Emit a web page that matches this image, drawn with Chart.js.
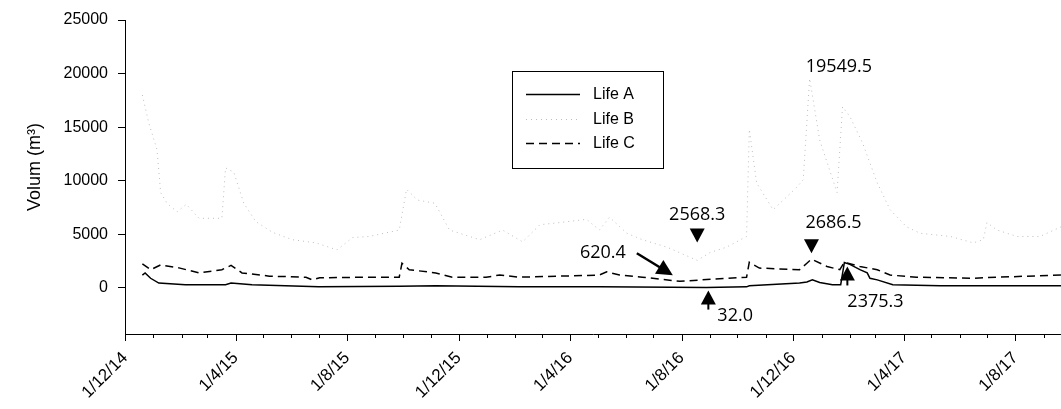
<!DOCTYPE html>
<html>
<head>
<meta charset="utf-8">
<script src="https://cdn.jsdelivr.net/npm/chart.js@4.4.1/dist/chart.umd.min.js"></script>
<style>
  html, body { margin: 0; padding: 0; background: #fff; }
</style>
</head>
<body>
<canvas id="volChart" width="1061" height="409"></canvas>
<script>
// Life A (solid)
const lifeADates = ['2014-12-20','2014-12-23','2014-12-29','2015-01-07','2015-02-05','2015-03-21','2015-03-27','2015-04-19','2015-07-01','2015-09-27','2015-11-06','2016-02-05','2016-05-03','2016-08-28','2016-10-11','2016-10-14','2016-12-08','2016-12-16','2016-12-22','2016-12-30','2017-01-13','2017-01-22','2017-01-26','2017-02-01','2017-02-12','2017-02-20','2017-02-23','2017-03-03','2017-03-20','2017-05-11','2017-09-20'];
const lifeAValues = [1200,1400,900,450,300,300,450,300,100,150,200,100,100,32.0,100,200,450,550,750,500,300,300,2375.3,2200,1700,1400,900,750,300,200,200];

// Life B (dotted)
const lifeBDates = ['2014-12-20','2014-12-27','2015-01-05','2015-01-09','2015-01-16','2015-01-27','2015-02-06','2015-02-20','2015-03-17','2015-03-21','2015-03-30','2015-04-10','2015-04-23','2015-05-11','2015-06-02','2015-06-28','2015-07-21','2015-08-07','2015-08-25','2015-09-27','2015-10-05','2015-10-17','2015-11-05','2015-11-21','2015-12-24','2016-01-18','2016-02-09','2016-02-28','2016-03-21','2016-04-19','2016-05-03','2016-05-14','2016-06-02','2016-06-19','2016-07-16','2016-08-18','2016-09-01','2016-09-19','2016-10-11','2016-10-14','2016-10-22','2016-11-09','2016-11-24','2016-12-05','2016-12-12','2016-12-19','2016-12-30','2017-01-18','2017-01-24','2017-02-01','2017-02-15','2017-03-03','2017-03-17','2017-04-04','2017-04-19','2017-05-22','2017-06-16','2017-06-27','2017-07-01','2017-07-12','2017-08-03','2017-08-28','2017-09-20'];
const lifeBValues = [18000,15400,12900,8900,7900,7100,7800,6500,6500,11200,10800,7900,6200,5200,4500,4200,3550,4700,4800,5400,9200,8200,7900,5400,4500,5400,4300,5900,6100,6400,5400,6600,5100,4500,3800,2568.3,3300,3800,4800,14800,9800,7300,8500,9400,10100,19549.5,13800,8900,16900,16000,13500,9800,7300,5700,5100,4800,4200,4500,6100,5400,4800,4800,5700];

// Life C (dashed)
const lifeCDates = ['2014-12-20','2014-12-29','2015-01-09','2015-01-29','2015-02-20','2015-03-17','2015-03-27','2015-04-08','2015-05-08','2015-06-17','2015-06-24','2015-07-02','2015-08-25','2015-09-27','2015-09-30','2015-10-08','2015-11-06','2015-11-24','2015-12-31','2016-01-15','2016-02-05','2016-03-21','2016-05-03','2016-05-11','2016-05-25','2016-06-19','2016-07-30','2016-09-19','2016-10-11','2016-10-14','2016-10-25','2016-12-08','2016-12-16','2016-12-21','2017-01-07','2017-01-21','2017-01-26','2017-02-12','2017-03-03','2017-03-17','2017-04-15','2017-06-16','2017-07-12','2017-09-20'];
const lifeCValues = [2250,1700,2150,1870,1400,1700,2100,1400,1100,1000,750,950,1000,1000,2300,1700,1400,1000,1000,1200,1000,1100,1200,1500,1200,1000,620.4,900,1000,2400,1850,1700,2300,2686.5,2000,1700,2400,2000,1700,1200,1000,900,1000,1200];

const seriesNames = ['Life A', 'Life B', 'Life C'];
const yTickValues = [0, 5000, 10000, 15000, 20000, 25000];
const xTickLabels = ['1/12/14','1/4/15','1/8/15','1/12/15','1/4/16','1/8/16','1/12/16','1/4/17','1/8/17'];
const yTitle = 'Volum (m³)';
const xStart = '2014-12-01';
const xEnd = '2017-09-20';
const yMin = -4300;
const yMax = 25000;

// annotated values
const noteDates = ['2016-12-19','2016-08-18','2016-12-21','2016-07-30','2016-08-28','2017-01-26'];
const noteValues = [19549.5, 2568.3, 2686.5, 620.4, 32.0, 2375.3];

function toDay(s) {
    const p = s.split('-');
    return Date.UTC(+p[0], +p[1] - 1, +p[2]) / 864e5;
}

function labelToDay(l) {
    const p = l.split('/');
    return Date.UTC(2000 + +p[2], +p[1] - 1, +p[0]) / 864e5;
}

function points(dates, values) {
    return dates.map((d, i) => ({ x: toDay(d), y: values[i] }));
}

const xTickValues = xTickLabels.map(labelToDay);

// monthly tick marks under the x axis, long ones on labelled months
const monthTicks = {
    id: 'monthTicks',
    afterDraw(chart) {
        const xs = chart.scales.x;
        const ctx = chart.ctx;
        const y0 = chart.chartArea.bottom;
        ctx.save();
        ctx.strokeStyle = '#000';
        ctx.lineWidth = 1;
        for (let i = 0; i < 40; i++) {
            const d = Date.UTC(2014, 11 + i, 1) / 864e5;
            if (d > xs.max) break;
            const px = Math.round(xs.getPixelForValue(d)) + 0.5;
            const len = xTickValues.includes(d) ? 7 : 4;
            ctx.beginPath();
            ctx.moveTo(px, y0);
            ctx.lineTo(px, y0 + len);
            ctx.stroke();
        }
        ctx.restore();
    }
};

// y axis title, a bit above the middle of the axis
const sideTitle = {
    id: 'sideTitle',
    afterDraw(chart) {
        const { ctx, chartArea: ca } = chart;
        ctx.save();
        ctx.translate(ca.left - 90, (ca.top + ca.bottom) / 2 - 10);
        ctx.rotate(-Math.PI / 2);
        ctx.fillStyle = '#000';
        ctx.font = '18px "Liberation Sans"';
        ctx.textAlign = 'center';
        ctx.textBaseline = 'middle';
        ctx.fillText(yTitle, 0, 0);
        ctx.restore();
    }
};

function triangle(ctx, x, tipY, dir, w, h) {
    ctx.beginPath();
    ctx.moveTo(x, tipY);
    ctx.lineTo(x - w / 2, tipY + dir * h);
    ctx.lineTo(x + w / 2, tipY + dir * h);
    ctx.closePath();
    ctx.fill();
}

// value labels with triangles / arrow
const valueNotes = {
    id: 'valueNotes',
    afterDatasetsDraw(chart) {
        const { ctx, scales: { x, y } } = chart;
        const styles = [
            { mark: null, tx: -4, ty: -6, align: 'left' },
            { mark: 'down', mx: 0, my: -18, tx: 0, ty: -40, align: 'center' },
            { mark: 'down', mx: 0, my: -6, tx: -6, ty: -31, align: 'left' },
            { mark: 'arrow', tx: -54, ty: -23, align: 'right' },
            { mark: 'up', mx: 2, my: 3, tx: 11, ty: 33, align: 'left' },
            { mark: 'up', mx: 3, my: 4, tx: 3, ty: 45, align: 'left' }
        ];
        ctx.save();
        ctx.fillStyle = '#000';
        ctx.strokeStyle = '#000';
        ctx.font = '18px "Open Sans"';
        ctx.textBaseline = 'alphabetic';
        noteDates.forEach((d, i) => {
            const px = x.getPixelForValue(toDay(d));
            const py = y.getPixelForValue(noteValues[i]);
            const s = styles[i];
            if (s.mark === 'down') {
                triangle(ctx, px + s.mx, py + s.my, -1, 15, 14);
            } else if (s.mark === 'up') {
                triangle(ctx, px + s.mx, py + s.my, 1, 15, 14);
                ctx.lineWidth = 2;
                ctx.beginPath();
                ctx.moveTo(px + s.mx, py + s.my + 12);
                ctx.lineTo(px + s.mx, py + s.my + 19);
                ctx.stroke();
            } else if (s.mark === 'arrow') {
                const x1 = px - 43, y1 = py - 28, x2 = px - 7, y2 = py - 6;
                const ang = Math.atan2(y2 - y1, x2 - x1);
                ctx.lineWidth = 2.5;
                ctx.beginPath();
                ctx.moveTo(x1, y1);
                ctx.lineTo(x2 - 12 * Math.cos(ang), y2 - 12 * Math.sin(ang));
                ctx.stroke();
                ctx.beginPath();
                ctx.moveTo(x2, y2);
                ctx.lineTo(x2 - 16 * Math.cos(ang) + 8 * Math.sin(ang), y2 - 16 * Math.sin(ang) - 8 * Math.cos(ang));
                ctx.lineTo(x2 - 16 * Math.cos(ang) - 8 * Math.sin(ang), y2 - 16 * Math.sin(ang) + 8 * Math.cos(ang));
                ctx.closePath();
                ctx.fill();
            }
            ctx.textAlign = s.align;
            ctx.fillText(noteValues[i].toFixed(1), px + s.tx, py + s.ty);
        });
        ctx.restore();
    }
};

// boxed legend inside the plot
const boxLegend = {
    id: 'boxLegend',
    afterDatasetsDraw(chart) {
        const { ctx, chartArea: ca } = chart;
        const left = ca.left + 387, top = ca.top + 51, w = 151, h = 97;
        ctx.save();
        ctx.fillStyle = '#fff';
        ctx.fillRect(left, top, w, h);
        ctx.strokeStyle = '#000';
        ctx.lineWidth = 1;
        ctx.strokeRect(left + 0.5, top + 0.5, w, h);
        chart.data.datasets.forEach((ds, i) => {
            const ly = Math.round(top + 23 + i * 24.5) + 0.5;
            ctx.strokeStyle = ds.borderColor;
            ctx.lineWidth = ds.borderWidth;
            ctx.setLineDash(ds.borderDash || []);
            ctx.beginPath();
            ctx.moveTo(left + 14, ly);
            ctx.lineTo(left + 68, ly);
            ctx.stroke();
            ctx.setLineDash([]);
            ctx.fillStyle = '#000';
            ctx.font = '16px "Liberation Sans"';
            ctx.textAlign = 'left';
            ctx.textBaseline = 'middle';
            ctx.fillText(ds.label, left + 81, ly);
        });
        ctx.restore();
    }
};

Chart.defaults.font.family = '"Liberation Sans", Arial, sans-serif';
Chart.defaults.font.size = 16;
Chart.defaults.color = '#000';

new Chart(document.getElementById('volChart'), {
    type: 'line',
    data: {
        datasets: [
            {
                label: seriesNames[0],
                data: points(lifeADates, lifeAValues),
                borderColor: '#000',
                borderWidth: 1.5,
                pointRadius: 0,
                tension: 0
            },
            {
                label: seriesNames[1],
                data: points(lifeBDates, lifeBValues),
                borderColor: '#bdbdbd',
                borderWidth: 1,
                borderDash: [1, 4],
                pointRadius: 0,
                tension: 0
            },
            {
                label: seriesNames[2],
                data: points(lifeCDates, lifeCValues),
                borderColor: '#000',
                borderWidth: 1.5,
                borderDash: [8, 5],
                pointRadius: 0,
                tension: 0
            }
        ]
    },
    options: {
        responsive: false,
        animation: false,
        events: [],
        layout: { padding: { top: 20, right: 0, left: 0, bottom: 0 } },
        plugins: {
            legend: { display: false },
            tooltip: { enabled: false }
        },
        scales: {
            x: {
                type: 'linear',
                min: toDay(xStart),
                max: toDay(xEnd),
                grid: { display: false, drawTicks: true, tickLength: 7 },
                border: { display: true, color: '#000', width: 1 },
                ticks: {
                    autoSkip: false,
                    minRotation: 45,
                    maxRotation: 45,
                    padding: 7,
                    font: { size: 17 },
                    callback: (v, i) => xTickLabels[i]
                },
                afterBuildTicks: scale => {
                    scale.ticks = xTickValues.map(v => ({ value: v }));
                },
                afterFit: scale => { scale.height = 75; }
            },
            y: {
                min: yMin,
                max: yMax,
                grid: { display: true, drawOnChartArea: false, tickLength: 7, color: '#000' },
                border: { display: true, color: '#000', width: 1 },
                ticks: {
                    padding: 10,
                    callback: v => String(v)
                },
                afterBuildTicks: scale => {
                    scale.ticks = yTickValues.map(v => ({ value: v }));
                },
                afterFit: scale => { scale.width = 125; }
            }
        }
    },
    plugins: [monthTicks, sideTitle, valueNotes, boxLegend]
});
</script>
</body>
</html>
